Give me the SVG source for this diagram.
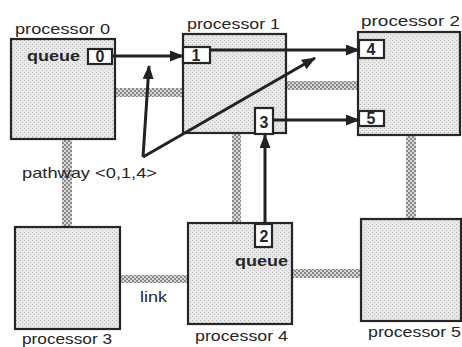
<svg xmlns="http://www.w3.org/2000/svg" width="462" height="347" viewBox="0 0 462 347">
<defs>
<pattern id="stip" width="4" height="4" patternUnits="userSpaceOnUse">
<rect width="4" height="4" fill="#e8e8e8"/>
<rect x="0" y="0" width="1" height="1" fill="#b5b5b5"/>
<rect x="2" y="2" width="1" height="1" fill="#c4c4c4"/>
</pattern>
<pattern id="chk" width="4" height="4" patternUnits="userSpaceOnUse">
<rect width="4" height="4" fill="#d8d8d8"/>
<rect x="0" y="0" width="2" height="2" fill="#8a8a8a"/>
<rect x="2" y="2" width="2" height="2" fill="#8a8a8a"/>
</pattern>
<marker id="ah" viewBox="0 0 14 11" refX="13" refY="5.5" markerWidth="14" markerHeight="11" markerUnits="userSpaceOnUse" orient="auto">
<path d="M0,0 L14,5.5 L0,11 Z" fill="#222"/>
</marker>
</defs>
<style>
.box{fill:url(#stip);stroke:#262626;stroke-width:2.2}
.q{fill:#fff;stroke:#262626;stroke-width:2.2}
.lnk{fill:url(#chk)}
.t{font-family:"Liberation Sans",Arial,sans-serif;font-size:15px;fill:#262626}
.b{font-weight:bold}
.d{font-family:"Liberation Sans",Arial,sans-serif;font-size:16px;font-weight:bold;fill:#262626;text-anchor:middle}
.ar{fill:none;stroke:#222;stroke-width:3;marker-end:url(#ah)}
</style>
<g id="links">
<rect class="lnk" x="115" y="88" width="68" height="9"/>
<rect class="lnk" x="286" y="81" width="72" height="9"/>
<rect class="lnk" x="62" y="139" width="10" height="88"/>
<rect class="lnk" x="232" y="133" width="9" height="90"/>
<rect class="lnk" x="406" y="135" width="10" height="84"/>
<rect class="lnk" x="120" y="275" width="68" height="8"/>
<rect class="lnk" x="292" y="269" width="69" height="9"/>
</g>
<g id="p0">
<rect class="box" x="11" y="39" width="104" height="100"/>
<text class="t" x="15" y="34" textLength="95" lengthAdjust="spacingAndGlyphs">processor 0</text>
<text class="t b" x="27" y="61" textLength="53" lengthAdjust="spacingAndGlyphs">queue</text>
<rect class="q" x="88" y="49" width="24" height="15"/>
<text class="d" x="100" y="62">0</text>
</g>
<g id="p1">
<rect class="box" x="183" y="34" width="103" height="99"/>
<text class="t" x="187" y="29" textLength="93" lengthAdjust="spacingAndGlyphs">processor 1</text>
<rect class="q" x="183" y="47" width="27" height="16"/>
<text class="d" x="196" y="61">1</text>
<rect class="q" x="255" y="108" width="18" height="26"/>
<text class="d" x="264" y="128">3</text>
</g>
<g id="p2">
<rect class="box" x="358" y="32" width="102" height="103"/>
<text class="t" x="361" y="26" textLength="99" lengthAdjust="spacingAndGlyphs">processor 2</text>
<rect class="q" x="359" y="40" width="25" height="18"/>
<text class="d" x="371" y="55">4</text>
<rect class="q" x="359" y="111" width="25" height="15"/>
<text class="d" x="371" y="124">5</text>
</g>
<g id="p3">
<rect class="box" x="15" y="227" width="105" height="102"/>
<text class="t" x="22" y="344" textLength="90" lengthAdjust="spacingAndGlyphs">processor 3</text>
</g>
<g id="p4">
<rect class="box" x="188" y="223" width="104" height="101"/>
<text class="t" x="195" y="341" textLength="93" lengthAdjust="spacingAndGlyphs">processor 4</text>
<rect class="q" x="255" y="224" width="17" height="23"/>
<text class="d" x="264" y="242">2</text>
<text class="t b" x="235" y="266" textLength="53" lengthAdjust="spacingAndGlyphs">queue</text>
</g>
<g id="p5">
<rect class="box" x="361" y="219" width="100" height="102"/>
<text class="t" x="368" y="337" textLength="93" lengthAdjust="spacingAndGlyphs">processor 5</text>
</g>
<g id="labels">
<text class="t" x="22" y="178" textLength="135" lengthAdjust="spacingAndGlyphs">pathway &lt;0,1,4&gt;</text>
<text class="t" x="140" y="302" textLength="27" lengthAdjust="spacingAndGlyphs">link</text>
</g>
<g id="connectors">
<line class="ar" x1="112" y1="56" x2="183" y2="56"/>
<line class="ar" x1="210" y1="50" x2="359" y2="50"/>
<line class="ar" x1="273" y1="120" x2="359" y2="120"/>
<line class="ar" x1="265" y1="224" x2="265" y2="135"/>
<line class="ar" x1="143" y1="157" x2="149" y2="66"/>
<line class="ar" x1="143" y1="157" x2="315" y2="58"/>
</g>
</svg>
